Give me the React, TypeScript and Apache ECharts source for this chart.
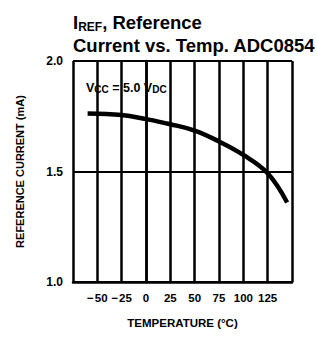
import React, { useEffect, useRef } from "react";
import * as echarts from "echarts";

const temps = [-60, -25, 0, 25, 50, 75, 100, 125, 145];
const current = [1.763, 1.756, 1.737, 1.714, 1.685, 1.636, 1.575, 1.492, 1.36];
const xTicks = [-50, -25, 0, 25, 50, 75, 100, 125];
const yTicks = [1.0, 1.5, 2.0];

const FONT = "'Liberation Sans', Arial, sans-serif";
const INK = "#000000";

export default function App() {
  const ref = useRef<HTMLDivElement>(null);
  useEffect(() => {
    document.body.style.margin = "0";
    const chart = echarts.init(ref.current!, null, { renderer: "svg" });
    chart.setOption({
      animation: false,
      grid: { left: 73, top: 61, right: 25, bottom: 55 },
      xAxis: {
        type: "value",
        min: -75,
        max: 150,
        interval: 25,
        axisLine: { show: true, lineStyle: { color: INK, width: 2.5 } },
        splitLine: { show: true, lineStyle: { color: INK, width: 2.5 } },
        axisTick: { show: false },
        axisLabel: {
          margin: 10,
          color: "#000",
          fontFamily: FONT,
          fontWeight: "bold",
          fontSize: 11.5,
          formatter: (v: number) =>
            xTicks.includes(v) ? (v < 0 ? "\u2212\u200a" + Math.abs(v) : String(v)) : "",
        },
        name: "TEMPERATURE (°C)",
        nameLocation: "middle",
        nameGap: 35,
        nameTextStyle: { color: "#000", fontFamily: FONT, fontWeight: "bold", fontSize: 11.5 },
      },
      yAxis: {
        type: "value",
        min: 1,
        max: 2,
        interval: 0.5,
        axisLine: { show: true, lineStyle: { color: INK, width: 2.5 } },
        splitLine: { show: true, lineStyle: { color: INK, width: 2 } },
        axisTick: { show: false },
        axisLabel: {
          margin: 10,
          color: "#000",
          fontFamily: FONT,
          fontWeight: "bold",
          fontSize: 12,
          formatter: (v: number) =>
            yTicks.some((t) => Math.abs(t - v) < 1e-9) ? v.toFixed(1) : "",
        },
        name: "REFERENCE CURRENT (mA)",
        nameLocation: "middle",
        nameGap: 48,
        nameTextStyle: { color: "#000", fontFamily: FONT, fontWeight: "bold", fontSize: 11 },
      },
      graphic: [
        {
          type: "text",
          left: 73,
          top: 13,
          style: {
            text: "{b|I}{s|REF}{b|, Reference}",
            rich: {
              b: { fontFamily: FONT, fontWeight: "bold", fontSize: 18.5, fill: "#000" },
              s: { fontFamily: FONT, fontWeight: "bold", fontSize: 12, fill: "#000", verticalAlign: "bottom", padding: [8, 0, 0, 0] },
            },
          },
        },
        {
          type: "text",
          left: 73,
          top: 36,
          style: {
            text: "Current vs. Temp. ADC0854",
            fontFamily: FONT,
            fontWeight: "bold",
            fontSize: 18.5,
            fill: "#000",
          },
        },
        {
          type: "text",
          left: 86,
          top: 81,
          style: {
            text: "{b|V}{s|CC}{b| = 5.0 V}{s|DC}",
            rich: {
              b: { fontFamily: FONT, fontWeight: "bold", fontSize: 12.5, fill: "#000" },
              s: { fontFamily: FONT, fontWeight: "bold", fontSize: 10, fill: "#000", padding: [4, 0, 0, 0] },
            },
          },
        },
      ],
      series: [
        {
          type: "line",
          data: temps.map((t, i) => [t, current[i]]),
          smooth: 0.4,
          showSymbol: false,
          symbol: "none",
          lineStyle: { color: "#000", width: 4.5 },
        },
      ],
    });
    return () => chart.dispose();
  }, []);
  return <div ref={ref} style={{ width: 317, height: 337 }} />;
}
